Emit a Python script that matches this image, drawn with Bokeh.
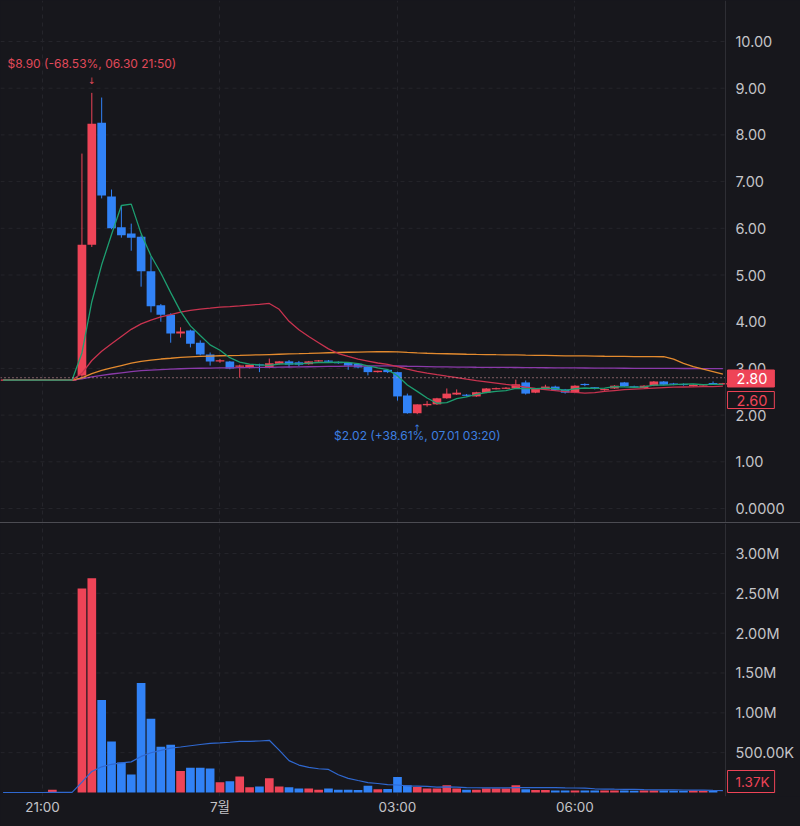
import numpy as np
import pandas as pd
from bokeh.plotting import figure
from bokeh.models import (Range1d, LinearAxis, FixedTicker, Label, Span, ColumnDataSource, Div, Grid)
from bokeh.layouts import column
from bokeh.embed import file_html
from bokeh.resources import INLINE

BG = "#17171c"
RED = "#ee4457"
BLUE = "#3182f6"
GRID = "#25252b"
TXT = "#c4c4c8"

# ---------------- data (10-minute bars) ----------------
times = ["20:20", "20:30", "20:40", "20:50", "21:00", "21:10", "21:20", "21:30",
         "21:40", "21:50", "22:00", "22:10", "22:20", "22:30", "22:40", "22:50",
         "23:00", "23:10", "23:20", "23:30", "23:40", "23:50", "00:00", "00:10",
         "00:20", "00:30", "00:40", "00:50", "01:00", "01:10", "01:20", "01:30",
         "01:40", "01:50", "02:00", "02:10", "02:20", "02:30", "02:40", "02:50",
         "03:00", "03:10", "03:20", "03:30", "03:40", "03:50", "04:00", "04:10",
         "04:20", "04:30", "04:40", "04:50", "05:00", "05:10", "05:20", "05:30",
         "05:40", "05:50", "06:00", "06:10", "06:20", "06:30", "06:40", "06:50",
         "07:00", "07:10", "07:20", "07:30", "07:40", "07:50", "08:00", "08:10",
         "08:20", "08:30"]
opens = [2.75, 2.75, 2.75, 2.75, 2.75, 2.75, 2.75, 2.75,
         2.85, 5.65, 8.26, 6.68, 6.02, 5.89, 5.82, 5.08,
         4.35, 4.15, 3.75, 3.81, 3.55, 3.30, 3.15, 3.15,
         3.04, 3.02, 3.08, 3.02, 3.10, 3.15, 3.13, 3.09,
         3.15, 3.16, 3.14, 3.12, 3.10, 3.04, 2.92, 2.97,
         2.92, 2.42, 2.04, 2.21, 2.23, 2.36, 2.44, 2.43,
         2.40, 2.48, 2.56, 2.57, 2.57, 2.70, 2.48, 2.55,
         2.61, 2.55, 2.48, 2.66, 2.59, 2.54, 2.57, 2.70,
         2.61, 2.58, 2.63, 2.72, 2.67, 2.66, 2.62, 2.64,
         2.68, 2.66]
highs = [2.75, 2.75, 2.75, 2.75, 2.75, 2.75, 2.75, 2.75,
         7.60, 8.90, 8.80, 6.83, 6.49, 6.10, 5.85, 5.40,
         4.38, 4.18, 3.88, 3.83, 3.60, 3.34, 3.20, 3.16,
         3.08, 3.08, 3.10, 3.21, 3.16, 3.18, 3.16, 3.16,
         3.18, 3.18, 3.15, 3.13, 3.11, 3.05, 2.95, 2.98,
         2.93, 2.46, 2.23, 2.30, 2.37, 2.57, 2.55, 2.45,
         2.50, 2.58, 2.59, 2.60, 2.76, 2.74, 2.58, 2.65,
         2.63, 2.56, 2.64, 2.68, 2.60, 2.57, 2.64, 2.71,
         2.63, 2.64, 2.73, 2.73, 2.69, 2.68, 2.66, 2.66,
         2.72, 2.69]
lows = [2.75, 2.75, 2.75, 2.75, 2.75, 2.75, 2.75, 2.75,
        2.78, 5.60, 6.64, 5.98, 5.80, 5.52, 4.75, 4.20,
        4.00, 3.55, 3.66, 3.45, 3.28, 3.06, 3.12, 2.98,
        2.80, 3.00, 2.92, 3.00, 3.08, 3.02, 3.05, 3.08,
        3.14, 3.13, 3.10, 2.97, 3.00, 2.85, 2.91, 2.90,
        2.31, 2.03, 2.02, 2.18, 2.22, 2.35, 2.43, 2.40,
        2.39, 2.47, 2.55, 2.56, 2.56, 2.44, 2.47, 2.54,
        2.52, 2.46, 2.47, 2.62, 2.55, 2.52, 2.56, 2.61,
        2.58, 2.57, 2.62, 2.64, 2.64, 2.63, 2.61, 2.63,
        2.66, 2.65]
closes = [2.75, 2.75, 2.75, 2.75, 2.75, 2.75, 2.75, 2.75,
          5.65, 8.24, 6.70, 6.00, 5.85, 5.80, 5.08, 4.33,
          4.15, 3.75, 3.79, 3.53, 3.30, 3.15, 3.17, 3.00,
          3.06, 3.08, 3.07, 3.11, 3.15, 3.08, 3.08, 3.15,
          3.17, 3.15, 3.11, 3.06, 3.02, 2.92, 2.95, 2.92,
          2.40, 2.04, 2.23, 2.24, 2.36, 2.46, 2.48, 2.42,
          2.49, 2.57, 2.57, 2.58, 2.66, 2.46, 2.57, 2.61,
          2.53, 2.48, 2.63, 2.65, 2.58, 2.55, 2.63, 2.62,
          2.60, 2.63, 2.72, 2.65, 2.66, 2.65, 2.65, 2.65,
          2.67, 2.68]
volumes = [0, 0, 0, 0, 0, 34000, 0, 0,
           2560000, 2690000, 1160000, 640000, 375000, 225000, 1375000, 925000,
           575000, 600000, 270000, 310000, 310000, 300000, 130000, 140000,
           200000, 67000, 75000, 180000, 75000, 67000, 50000, 50000,
           35000, 50000, 35000, 35000, 30000, 85000, 40000, 45000,
           195000, 90000, 70000, 50000, 50000, 90000, 50000, 35000,
           35000, 50000, 50000, 50000, 90000, 40000, 30000, 30000,
           25000, 25000, 25000, 25000, 25000, 25000, 25000, 25000,
           22000, 25000, 25000, 25000, 22000, 22000, 25000, 22000,
           22000, 1370]

prior_close = 2.75      # closes before the first visible bar
prior_volume = 0.0
current_price = 2.80
price_tags = [("2.80", 2.784, "fill"), ("2.60", 2.323, "outline")]
volume_tag = ("1.37K", 138000)
high_note = "$8.90 (-68.53%, 06.30 21:50)"
low_note = "$2.02 (+38.61%, 07.01 03:20)"
high_time, high_price = "21:50", 8.90
low_time, low_price = "03:20", 2.02

price_ticks = [0, 1, 2, 3, 4, 5, 6, 7, 8, 9, 10]
price_tick_labels = ["0.0000", "1.00", "2.00", "3.00", "4.00", "5.00", "6.00", "7.00", "8.00", "9.00", "10.00"]
vol_ticks = [500000, 1000000, 1500000, 2000000, 2500000, 3000000]
vol_tick_labels = ["500.00K", "1.00M", "1.50M", "2.00M", "2.50M", "3.00M"]
time_ticks = ["21:00", "00:00", "03:00", "06:00"]
time_tick_labels = ["21:00", "7월", "03:00", "06:00"]

ma_colors = {5: "#1d9e70", 20: "#c9334f", 60: "#e38a2e", 120: "#8a3aa9"}


def minutes(t):
    h, m = map(int, t.split(":"))
    v = h * 60 + m - 21 * 60
    return v + 1440 if v < -600 else v


x = np.array([minutes(t) for t in times], float)
o = np.array(opens); h = np.array(highs); l = np.array(lows); c = np.array(closes)
vol = np.array(volumes, float)
up = c >= o
col = np.where(up, RED, BLUE)
top = np.maximum(o, c)
bot = np.minimum(o, c)
mid = (top + bot) / 2
thin = (top - bot) < 0.025
top = np.where(thin, mid + 0.0125, top)
bot = np.where(thin, mid - 0.0125, bot)

warm = 119
cs = pd.Series([prior_close] * warm + closes)
mas = {n: cs.rolling(n).mean().to_numpy()[warm:] for n in (5, 20, 60, 120)}
vs = pd.Series([prior_volume] * 19 + list(vol))
vma = vs.rolling(20).mean().to_numpy()[19:]

src = ColumnDataSource(dict(x=x, o=o, h=h, l=l, c=c, top=top, bot=bot, col=col, vol=vol, vma=vma,
                            **{f"ma{n}": mas[n] for n in mas}))

W = 800
XR = Range1d(-42.59, 768.68)
AXIS_T = 692.6          # time coordinate where the price / volume scale starts
TAG_T = 694.7
BODY_W = 8.8

common = dict(output_backend="svg", toolbar_location=None, background_fill_color=BG,
              border_fill_color=BG, outline_line_color=None, min_border_left=0,
              min_border_right=0, min_border_top=0, min_border_bottom=0,
              x_axis_location=None, y_axis_location=None)


def style_axis(ax, size, standoff):
    ax.axis_line_color = "#2e2e34"
    ax.major_tick_line_color = None
    ax.minor_tick_line_color = None
    ax.major_tick_out = 0
    ax.major_tick_in = 0
    ax.minor_tick_out = 0
    ax.minor_tick_in = 0
    ax.axis_label_standoff = 0
    ax.major_label_text_color = TXT
    ax.major_label_text_font = "Inter, 'Noto Sans CJK KR'"
    ax.major_label_text_font_size = size
    ax.major_label_standoff = standoff


def hgrid(fig, ticks):
    fig.segment(x0=[XR.start] * len(ticks), x1=[AXIS_T] * len(ticks), y0=ticks, y1=ticks,
                line_color=GRID, line_dash="4 4", line_width=1)


def vgrid(fig, ticks):
    fig.add_layout(Grid(dimension=0, ticker=FixedTicker(ticks=ticks), grid_line_color=GRID,
                        grid_line_dash="4 4"))


tt = [minutes(t) for t in time_ticks]

# ---------------- price panel ----------------
p = figure(width=W, height=522, x_range=XR, y_range=Range1d(-0.2998, 10.878), **common)
p.center = [r for r in p.center if not isinstance(r, Grid)]

yax = LinearAxis(ticker=FixedTicker(ticks=price_ticks), fixed_location=AXIS_T,
                 major_label_overrides={t: s for t, s in zip(price_ticks, price_tick_labels)})
style_axis(yax, "14.5px", 10)
p.add_layout(yax, "right")
hgrid(p, price_ticks)
vgrid(p, tt)

p.segment(x0="x", y0="l", x1="x", y1="h", color="col", line_width=1, source=src)
p.vbar(x="x", width=BODY_W, top="top", bottom="bot", fill_color="col", line_color=None, source=src)

for n in (120, 60, 20, 5):
    p.line(x="x", y=f"ma{n}", color=ma_colors[n], line_width=1.3, source=src)

p.segment(x0=[XR.start], x1=[AXIS_T], y0=[current_price], y1=[current_price],
          line_color="#e7a2aa", line_dash="1 3", line_width=1)

hx = minutes(high_time)
lx = minutes(low_time)
p.add_layout(Label(x=hx, y=high_price + 0.62, text=high_note, text_align="center", text_baseline="middle",
                   text_font="Inter", text_font_size="12px", text_color="#e0495a"))
p.add_layout(Label(x=hx, y=high_price + 0.26, text="↓", text_align="center", text_baseline="middle",
                   text_font="DejaVu Sans", text_font_size="9px", text_color="#e0495a"))
p.add_layout(Label(x=lx, y=low_price - 0.46, text=low_note, text_align="center", text_baseline="middle",
                   text_font="Inter", text_font_size="12px", text_color="#3d7fe0"))
p.add_layout(Label(x=lx, y=low_price - 0.29, text="↑", text_align="center", text_baseline="middle",
                   text_font="DejaVu Sans", text_font_size="9px", text_color="#3d7fe0"))

for txt, yv, kind in price_tags:
    filled = kind == "fill"
    p.add_layout(Label(x=TAG_T, y=yv, text=txt, text_align="left", text_baseline="middle",
                       text_font="Inter", text_font_size="14.5px",
                       text_color="white" if filled else RED,
                       background_fill_color=RED if filled else BG, border_line_color=RED,
                       padding=dict(left=9, right=7, top=3, bottom=3)))

# ---------------- divider ----------------
div = Div(width=W, height=1, margin=0, styles={"background-color": "#4c4c52"})

# ---------------- volume panel ----------------
v = figure(width=W, height=303, x_range=XR, y_range=Range1d(-50200, 3376500), **common)
v.min_border_bottom = 30
v.center = [r for r in v.center if not isinstance(r, Grid)]
vax = LinearAxis(ticker=FixedTicker(ticks=vol_ticks), fixed_location=AXIS_T,
                 major_label_overrides={t: s for t, s in zip(vol_ticks, vol_tick_labels)})
xax = LinearAxis(ticker=FixedTicker(ticks=tt),
                 major_label_overrides={t: s for t, s in zip(tt, time_tick_labels)})
style_axis(vax, "14.5px", 10)
style_axis(xax, "13.5px", 2)
xax.axis_line_color = None
v.add_layout(vax, "right")
v.add_layout(xax, "below")
hgrid(v, vol_ticks)
vgrid(v, tt)

v.vbar(x="x", width=BODY_W, top="vol", bottom=0, fill_color="col", line_color=None, source=src)
v.line(x="x", y="vma", color="#2f68d0", line_width=1.2, source=src)

v.add_layout(Label(x=TAG_T, y=volume_tag[1], text=volume_tag[0], text_align="left", text_baseline="middle",
                   text_font="Inter", text_font_size="13.5px", text_color=RED,
                   background_fill_color=BG, border_line_color=RED,
                   padding=dict(left=8, right=5, top=3, bottom=3)))

layout = column(p, div, v, spacing=0)
layout.styles = {"background-color": BG}

html = file_html(layout, INLINE)
html = html.replace("<body>", '<body style="background-color:#17171c;">', 1)
open("out.html", "w").write(html)
